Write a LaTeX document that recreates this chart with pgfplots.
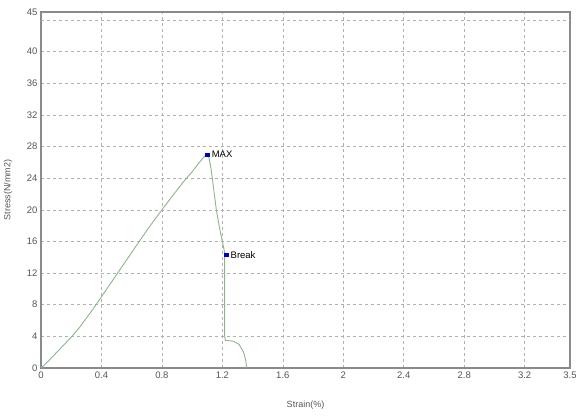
\documentclass[border=0pt]{standalone}
\usepackage{fontspec}
\setmainfont{Liberation Sans}
\usepackage{pgfplots}
\pgfplotsset{compat=1.18}
\definecolor{curve}{HTML}{8DB48D}
\definecolor{gridc}{HTML}{B0B0B0}
\definecolor{framec}{HTML}{8A8A8A}
\definecolor{tickc}{HTML}{555555}
\begin{document}
\begin{tikzpicture}
\begin{axis}[
  scale only axis,
  width=529pt, height=356pt,
  xmin=0, xmax=3.5, ymin=0, ymax=45,
  xtick={0,0.4,0.8,1.2,1.6,2,2.4,2.8,3.2,3.5},
  xticklabels={0,0.4,0.8,1.2,1.6,2,2.4,2.8,3.2,3.5},
  ytick={0,4,8,12,16,20,24,28,32,36,40,45},
  yticklabels={0,4,8,12,16,20,24,28,32,36,40,45},
  extra y ticks={44}, extra y tick labels={},
  extra y tick style={grid=major, major tick length=0pt},
  grid=major,
  major grid style={gridc, dashed, line width=0.5pt},
  axis line style={framec, line width=1.2pt},
  tick style={draw=none},
  ticklabel style={font=\fontsize{9.5}{10}\selectfont, text=tickc},
  /pgf/number format/assume math mode=true,
  xlabel={Strain(\%)}, ylabel={Stress(N/mm2)},
  label style={font=\fontsize{9}{10}\selectfont, text=tickc},
  xlabel style={at={(axis description cs:0.5,0)}, anchor=center, yshift=-37pt},
  ylabel style={at={(axis description cs:0,0.5)}, anchor=center, yshift=33pt},
  clip=false,
]
\path[use as bounding box] (axis cs:0,0) ++(-41pt,-47pt) rectangle ++(580pt,415pt);
\addplot[curve, line width=0.9pt] coordinates {
  (0,0) (0.05,0.9) (0.1,1.9) (0.15,2.9) (0.2,3.9) (0.25,5.0) (0.3,6.3)
  (0.35,7.6) (0.4,9.0) (0.5,11.8) (0.6,14.6) (0.7,17.4) (0.8,20.0)
  (0.9,22.5) (0.95,23.7) (1.0,24.8) (1.04,25.8) (1.07,26.5) (1.09,26.9) (1.1,27.0)
  (1.11,26.7) (1.125,25.2) (1.14,23) (1.16,20) (1.18,17.8) (1.2,16) (1.215,14.6)
  (1.215,10) (1.215,4) (1.22,3.5) (1.27,3.4) (1.31,3.0) (1.34,2.0)
  (1.355,1.0) (1.36,0)
};
\addplot[only marks, mark=square*, mark size=1.6pt, blue!80!black,
  nodes near coords, point meta=explicit symbolic,
  nodes near coords style={anchor=west, font=\fontsize{9.5}{10}\selectfont, text=black, xshift=1pt}]
  coordinates {(1.1,27.0)[MAX] (1.225,14.3)[Break]};
\end{axis}
\end{tikzpicture}
\end{document}
